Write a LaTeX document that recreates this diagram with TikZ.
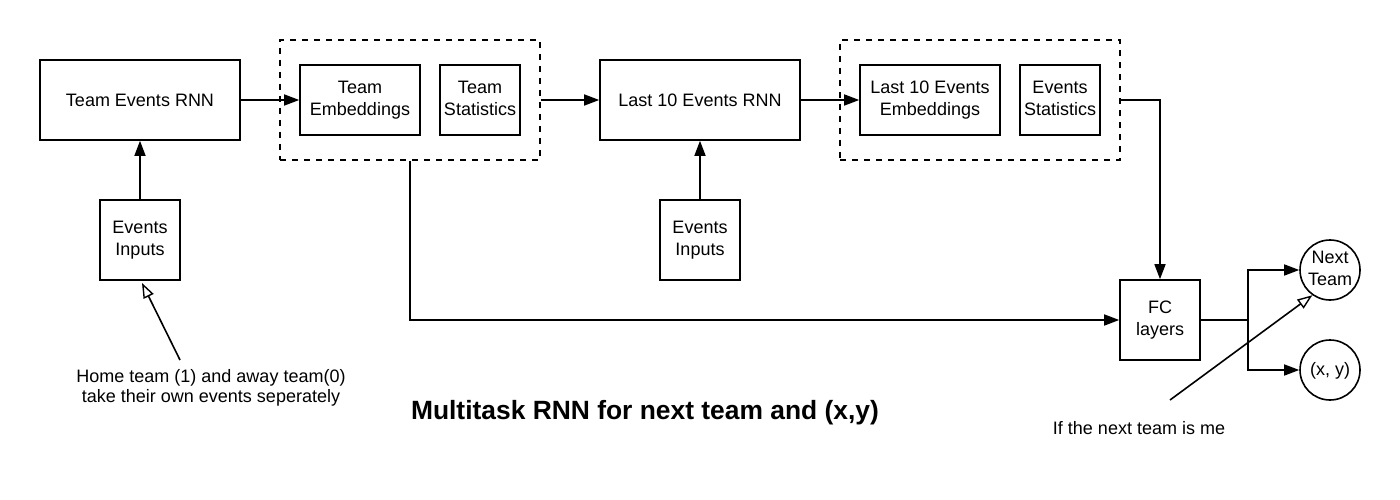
\documentclass[tikz,border=0pt]{standalone}
\usepackage{fontspec}
\setmainfont{Liberation Sans}
\usetikzlibrary{arrows.meta}
\newcommand\mytopstrut{\rule{0pt}{15.5pt}}
\newcommand\mybotstrut{\rule[-3pt]{0pt}{3pt}}
\begin{document}
\begin{tikzpicture}[x=1pt,y=-1pt,
  every node/.style={font=\fontsize{18}{22}\selectfont, align=center, inner sep=0pt},
  blk/.style={draw, line width=1.6pt, execute at begin node={\mytopstrut}, execute at end node={\mybotstrut}},
  grp/.style={draw, line width=1.6pt, dash pattern=on 6pt off 6pt},
  circ/.style={draw, circle, line width=1.6pt, minimum size=60pt, execute at begin node={\mytopstrut}, execute at end node={\mybotstrut}},
  conn/.style={line width=1.6pt, -{Triangle[length=15pt,width=11pt]}},
  note/.style={line width=1.6pt, -{Triangle[open,length=15pt,width=11pt,line width=1.4pt]}},
  lbl/.style={font=\fontsize{18}{20.5}\selectfont}]
\useasboundingbox (0,0) rectangle (1400,500);
% top row
\node[blk, minimum width=200pt, minimum height=80pt] (ternn) at (140,100) {Team Events RNN};
\node[grp, minimum width=260pt, minimum height=120pt] (g1) at (410,100) {};
\node[blk, minimum width=120pt, minimum height=70pt] (temb) at (360,100) {Team\\Embeddings};
\node[blk, minimum width=80pt, minimum height=70pt] (tstat) at (480,100) {Team\\Statistics};
\node[blk, minimum width=200pt, minimum height=80pt] (lrnn) at (700,100) {Last 10 Events RNN};
\node[grp, minimum width=280pt, minimum height=120pt] (g2) at (980,100) {};
\node[blk, minimum width=140pt, minimum height=70pt] (lemb) at (930,100) {Last 10 Events\\Embeddings};
\node[blk, minimum width=80pt, minimum height=70pt] (estat) at (1060,100) {Events\\Statistics};
% inputs
\node[blk, minimum width=80pt, minimum height=80pt] (in1) at (140,240) {Events\\Inputs};
\node[blk, minimum width=80pt, minimum height=80pt] (in2) at (700,240) {Events\\Inputs};
% FC and outputs
\node[blk, minimum width=80pt, minimum height=80pt] (fc) at (1160,320) {FC\\layers};
\node[circ] (next) at (1330,270) {Next\\Team};
\node[circ] (xy) at (1330,370) {(x, y)};
% texts
\node[lbl] (home) at (211,388) {Home team (1) and away team(0)\\take their own events seperately};
\node[lbl] (me) at (1139,428) {If the next team is me};
\node[font=\fontsize{26.4}{30}\selectfont\bfseries] (title) at (645,413) {Multitask RNN for next team and (x,y)};
\coordinate (hometail) at (180,360);
\coordinate (metail) at (1170,400);
\coordinate (split) at (1248,320);
% connectors
\draw[conn] (ternn.east) -- (temb.west);
\draw[conn] (g1.east) -- (lrnn.west);
\draw[conn] (lrnn.east) -- (lemb.west);
\draw[conn] (in1.north) -- (ternn.south);
\draw[conn] (in2.north) -- (lrnn.south);
\draw[conn] (g2.east) -| (fc.north);
\draw[conn] (g1.south) |- (fc.west);
\draw[line width=1.6pt] (fc.east) -- (split);
\draw[conn] (split) |- (next.west);
\draw[conn] (split) |- (xy.west);
\draw[note] (hometail) -- (142,283);
\draw[note] (metail) -- (next.-125);
\end{tikzpicture}
\end{document}
